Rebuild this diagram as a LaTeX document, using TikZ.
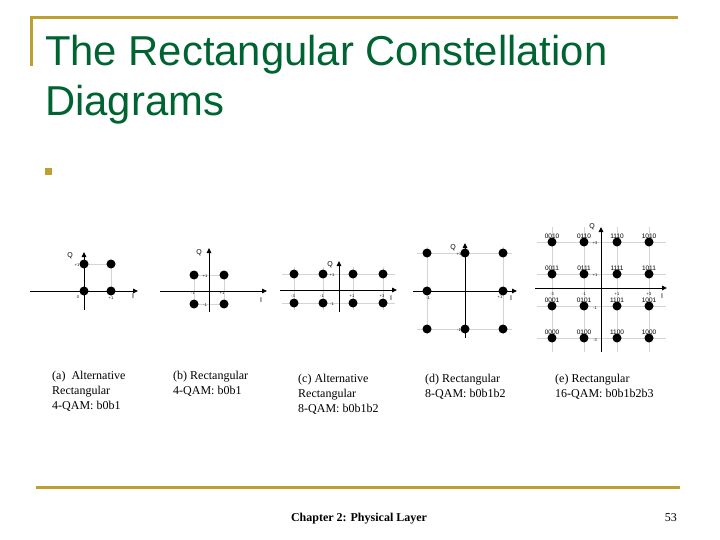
\documentclass[tikz,border=0pt]{standalone}
\usepackage{fontspec}
\setmainfont{Liberation Serif}
\newfontfamily\sansfont{Liberation Sans}
\usepackage{xcolor}
\usepackage{tikz}
\usetikzlibrary{arrows.meta, positioning}

\definecolor{slidegreen}{RGB}{0,100,50}
\definecolor{slidegold}{RGB}{190,160,48}
\definecolor{gridgrey}{RGB}{212,212,212}

\begin{document}
\begin{tikzpicture}[x=1pt, y=-1pt,
    pt/.style={circle, fill=black, inner sep=0pt, minimum size=9pt},
    axis/.style={-{Triangle[length=5pt, width=4.5pt]}, line width=1pt, draw=black},
    grid/.style={draw=gridgrey, line width=0.9pt},
    tick/.style={font=\sansfont\fontsize{4}{4}\selectfont, inner sep=0.5pt},
    code/.style={font=\sansfont\fontsize{6.5}{7}\selectfont, inner sep=0.3pt},
    axlabel/.style={font=\sansfont\fontsize{7}{7}\selectfont, inner sep=0pt},
    caption/.style={font=\fontsize{12}{15}\selectfont, align=left, anchor=north west, inner sep=0pt},
    rule/.style={draw=slidegold, line width=3pt}
]
\useasboundingbox[fill=white] (0,0) rectangle (720,540);

% Title and slide frame
\coordinate (lb) at (31,66);
\coordinate (tl) at (31,18);
\coordinate (tr) at (678,18);
\draw[rule] (lb) -- (tl) -- (tr);
\node[anchor=base west, inner sep=0pt, text=slidegreen, font=\sansfont\fontsize{41.8}{50}\selectfont] (title1) at (45,66) {The Rectangular Constellation};
\node[anchor=base west, inner sep=0pt, text=slidegreen, font=\sansfont\fontsize{41.8}{50}\selectfont] (title2) at (45,116) {Diagrams};
\node[fill=slidegold, minimum size=7pt, inner sep=0pt] (bullet) at (48.5,171.5) {};

% (a) Alternative rectangular 4-QAM
\draw[grid] (84,264) -- (111,264) -- (111,291);
\coordinate (aL) at (30,291);  \coordinate (aR) at (138,291);
\coordinate (aB) at (84,310);  \coordinate (aT) at (84,252);
\draw[axis] (aL) -- (aR);
\draw[axis] (aB) -- (aT);
\node[pt] (a00) at (84,291) {};
\node[pt] (a01) at (84,264) {};
\node[pt] (a10) at (111,291) {};
\node[pt] (a11) at (111,264) {};
\node[axlabel] (aQ) at (70,256) {Q};
\node[axlabel] (aI) at (133,296) {I};
\node[tick] (at1) at (77,265) {+1};
\node[tick] (at2) at (78,297) {0};
\node[tick] (at3) at (111,298) {+1};

% (b) Rectangular 4-QAM
\draw[grid] (194,275) rectangle (224,304);
\coordinate (bL) at (160,291);  \coordinate (bR) at (267,291);
\coordinate (bB) at (209,312);  \coordinate (bT) at (209,248);
\draw[axis] (bL) -- (bR);
\draw[axis] (bB) -- (bT);
\node[pt] (b00) at (194,304) {};
\node[pt] (b01) at (194,275) {};
\node[pt] (b10) at (224,304) {};
\node[pt] (b11) at (224,275) {};
\node[axlabel] (bQ) at (199,253) {Q};
\node[axlabel] (bI) at (261,300) {I};
\node[tick] (bt1) at (205,276) {+1};
\node[tick] (bt2) at (205,305) {-1};
\node[tick] (bt3) at (193,293) {-1};
\node[tick] (bt4) at (222,293) {+1};

% (c) Alternative rectangular 8-QAM
\foreach \y in {274,303}
  \draw[grid] (282,\y) -- (395,\y);
\foreach \x in {294,323,353,383}
  \draw[grid] (\x,267) -- (\x,310);
\coordinate (cL) at (280,290);  \coordinate (cR) at (397,290);
\coordinate (cB) at (339,312);  \coordinate (cT) at (339,261);
\draw[axis] (cL) -- (cR);
\draw[axis] (cB) -- (cT);
\foreach \x [count=\i] in {294,323,353,383}
  \foreach \y [count=\j] in {274,303}
    \node[pt] (c\i\j) at (\x,\y) {};
\node[axlabel] (cQ) at (330,265) {Q};
\node[axlabel] (cI) at (391,298) {I};
\node[tick] (ct1) at (332,275) {+1};
\node[tick] (ct2) at (332,304) {-1};
\foreach \x/\t [count=\i] in {294/-3,323/-1,353/+1,383/+3}
  \node[tick] (cx\i) at (\x-1,296) {\t};

% (d) Rectangular 8-QAM
\foreach \y in {253,329}
  \draw[grid] (417,\y) -- (512,\y);
\foreach \x in {427,503}
  \draw[grid] (\x,247) -- (\x,334);
\coordinate (dL) at (413,291);  \coordinate (dR) at (517,291);
\coordinate (dB) at (465,338);  \coordinate (dT) at (465,243);
\draw[axis] (dL) -- (dR);
\draw[axis] (dB) -- (dT);
\foreach \x/\y/\n in {427/253/11, 465/253/21, 503/253/31,
                      427/291/12, 503/291/32,
                      427/329/13, 465/329/23, 503/329/33}
  \node[pt] (d\n) at (\x,\y) {};
\node[axlabel] (dQ) at (453,248) {Q};
\node[axlabel] (dI) at (511,298) {I};
\node[tick] (dt1) at (459,254) {+1};
\node[tick] (dt2) at (459,330) {-1};
\node[tick] (dt3) at (428,298) {-1};
\node[tick] (dt4) at (500,297) {+1};

% (e) Rectangular 16-QAM with Gray codes
\foreach \y in {242,274,306,338}
  \draw[grid] (537,\y) -- (666,\y);
\foreach \x in {552,584,617,649}
  \draw[grid] (\x,227) -- (\x,352);
\coordinate (eL) at (535,288);  \coordinate (eR) at (667,288);
\coordinate (eB) at (601,352);  \coordinate (eT) at (601,227);
\draw[axis] (eL) -- (eR);
\draw[axis] (eB) -- (eT);
\foreach \x/\cb in {552/00, 584/01, 617/11, 649/10}
  \foreach \y/\rb in {242/10, 274/11, 306/01, 338/00}
    \node[pt, label={[code, label distance=-1.5pt]above:\cb\rb}] (e\cb\rb) at (\x,\y) {};
\node[axlabel] (eQ) at (592,227) {Q};
\node[axlabel] (eI) at (662,296) {I};
\foreach \y/\t [count=\i] in {242/+3,274/+1,307/-1,339/-3}
  \node[tick] (ey\i) at (595,\y+1) {\t};
\foreach \x/\t [count=\i] in {552/-3,584/-1,617/+1,649/+3}
  \node[tick] (ex\i) at (\x,294) {\t};

% Captions
\node[caption] (capa) at (52,371) {(a)~ Alternative\\Rectangular\\4-QAM: b0b1};
\node[caption] (capb) at (173,371) {(b) Rectangular\\4-QAM: b0b1};
\node[caption] (capc) at (298,374) {(c) Alternative\\Rectangular\\8-QAM: b0b1b2};
\node[caption] (capd) at (425,374) {(d) Rectangular\\8-QAM: b0b1b2};
\node[caption] (cape) at (555,374) {(e) Rectangular\\16-QAM: b0b1b2b3};

% Footer
\coordinate (bl) at (36,487);
\coordinate (br) at (680,487);
\draw[rule] (bl) -- (br);
\node[anchor=base, inner sep=0pt, font=\bfseries\fontsize{12}{14}\selectfont] (footer) at (359,521) {Chapter 2: Physical Layer};
\node[anchor=base east, inner sep=0pt, font=\fontsize{12}{14}\selectfont] (pageno) at (677,521) {53};
\end{tikzpicture}
\end{document}
